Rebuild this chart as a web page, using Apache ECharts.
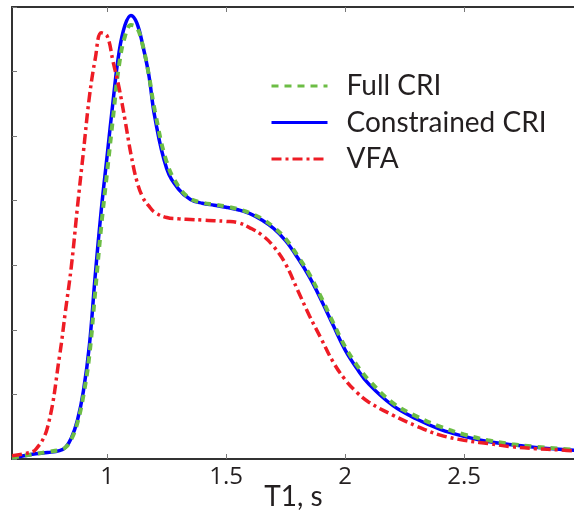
<!DOCTYPE html>
<html><head><meta charset="utf-8">
<script src="https://cdn.jsdelivr.net/npm/echarts@6/dist/echarts.min.js"></script>
<style>html,body{margin:0;padding:0;background:#fff}#c{width:574px;height:514px}</style>
</head><body><div id="c"></div>
<script>
var t1 = [0.60,0.65,0.70,0.75,0.80,0.825,0.85,0.875,0.90,0.925,0.95,0.975,1.00,1.025,1.05,1.075,1.10,1.125,1.15,1.175,1.20,1.25,1.30,1.35,1.40,1.45,1.50,1.55,1.60,1.65,1.70,1.75,1.80,1.85,1.90,1.95,2.00,2.05,2.10,2.20,2.30,2.40,2.50,2.60,2.70,2.80,2.90,3.00];
var fullCRI = [0.02,0.05,0.08,0.11,0.14,0.18,0.31,0.56,0.98,1.6,2.6,3.6,4.45,5.3,6.1,6.55,6.72,6.68,6.4,5.95,5.4,4.6,4.22,4.03,3.97,3.94,3.91,3.87,3.81,3.72,3.59,3.41,3.15,2.86,2.50,2.11,1.74,1.45,1.22,0.87,0.66,0.50,0.38,0.29,0.23,0.19,0.16,0.13];
var constrainedCRI = [0.02,0.05,0.08,0.10,0.13,0.18,0.33,0.60,1.05,1.75,2.85,3.85,4.7,5.55,6.3,6.72,6.87,6.75,6.4,5.95,5.3,4.5,4.18,4.02,3.96,3.93,3.90,3.86,3.80,3.70,3.57,3.38,3.12,2.82,2.46,2.07,1.69,1.40,1.16,0.83,0.62,0.46,0.35,0.27,0.22,0.18,0.15,0.13];
var vfa = [0.05,0.08,0.15,0.50,1.6,2.3,3.0,3.9,4.75,5.6,6.2,6.6,6.55,6.15,5.75,5.25,4.72,4.3,4.05,3.92,3.82,3.74,3.72,3.71,3.70,3.69,3.68,3.66,3.58,3.47,3.29,3.02,2.62,2.22,1.86,1.50,1.23,1.03,0.88,0.68,0.51,0.37,0.29,0.24,0.19,0.16,0.14,0.12];
var xTicks = [1, 1.5, 2, 2.5];
var seriesNames = ['Full CRI', 'Constrained CRI', 'VFA'];

function pairs(ys){ return t1.map(function(x,i){ return [x, ys[i]]; }); }

var chart = echarts.init(document.getElementById('c'), null, {renderer:'canvas'});
var axisCol = '#333';
var font = 'Lato, "Open Sans", sans-serif';
var numFont = '"Open Sans", sans-serif';
chart.setOption({
  animation: false,
  backgroundColor: '#fff',
  grid: { left: 12, top: 7, width: 571, bottom: 55, containLabel: false, outerBoundsMode: 'none' },
  legend: {
    data: seriesNames,
    orient: 'vertical',
    left: 270, top: 72, padding: 0,
    itemWidth: 56, itemHeight: 14, itemGap: 8.5,
    itemStyle: { opacity: 0 },
    lineStyle: { width: 3 },
    textStyle: { fontFamily: font, fontSize: 28, lineHeight: 28, color: '#231f20', padding: [0,0,0,14] }
  },
  xAxis: [{
    type: 'value', min: 0.6, max: 3.0,
    position: 'bottom',
    name: 'T1, s', nameLocation: 'middle', nameGap: 24, nameMoveOverlap: false,
    nameTextStyle: { fontFamily: font, fontSize: 28, color: '#231f20', padding: [0, 8, 0, 0] },
    axisLine: { show: true, onZero: false, lineStyle: { color: axisCol, width: 2 } },
    axisTick: { show: true, inside: true, length: 5, customValues: xTicks, lineStyle: { color: '#777', width: 1 } },
    axisLabel: { show: true, customValues: xTicks, fontFamily: numFont, fontSize: 24, color: '#231f20', margin: 6 },
    splitLine: { show: false }
  }, {
    type: 'value', min: 0.6, max: 3.0,
    position: 'top',
    axisLine: { show: true, onZero: false, lineStyle: { color: axisCol, width: 2 } },
    axisTick: { show: true, inside: true, length: 5, customValues: xTicks, lineStyle: { color: '#777', width: 1 } },
    axisLabel: { show: false },
    splitLine: { show: false }
  }],
  yAxis: {
    type: 'value', min: 0, max: 7, interval: 1,
    axisLine: { show: true, onZero: false, lineStyle: { color: axisCol, width: 2 } },
    axisTick: { show: true, inside: true, length: 5, lineStyle: { color: '#777', width: 1 } },
    axisLabel: { show: false },
    splitLine: { show: false }
  },
  series: [{
    name: 'Constrained CRI', type: 'line', smooth: 0.4, symbol: 'none', z: 2,
    data: pairs(constrainedCRI),
    lineStyle: { color: '#0000ff', width: 3.5, type: 'solid' },
    itemStyle: { color: '#0000ff' }
  }, {
    name: 'Full CRI', type: 'line', smooth: 0.4, symbol: 'none', z: 3,
    data: pairs(fullCRI),
    lineStyle: { color: '#6cbd45', width: 4, type: [7, 6] },
    itemStyle: { color: '#6cbd45' }
  }, {
    name: 'VFA', type: 'line', smooth: 0.4, symbol: 'none', z: 4,
    data: pairs(vfa),
    lineStyle: { color: '#ee1c25', width: 3.5, type: [10, 4, 3, 4] },
    itemStyle: { color: '#ee1c25' }
  }]
});
</script></body></html>
